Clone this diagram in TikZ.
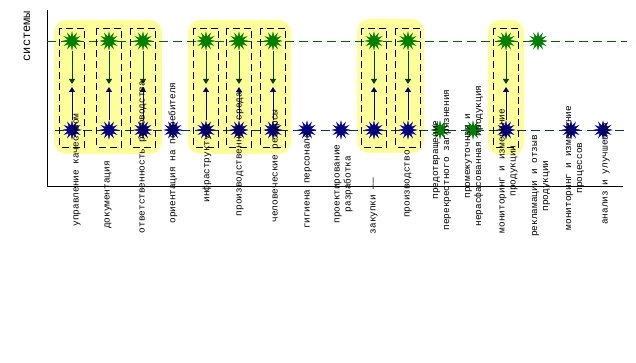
\documentclass[tikz,border=0pt]{standalone}
\usepackage{fontspec}
\setmainfont{Liberation Mono}
\usetikzlibrary{shapes.geometric,arrows.meta}
\definecolor{ybox}{HTML}{FFFF99}
\definecolor{gstar}{HTML}{008000}
\definecolor{garr}{HTML}{004000}
\definecolor{gline}{HTML}{006600}
\definecolor{bstar}{HTML}{000080}
\definecolor{bline}{HTML}{003366}
\tikzset{
  grp/.style={fill=ybox,draw=none,rounded corners=12pt},
  colbox/.style={draw=black,dash pattern=on 7pt off 4pt,line width=0.8pt},
  gstarn/.style={star,star points=12,star point ratio=2.1,minimum size=18pt,inner sep=0pt,fill=gstar,draw=gstar,line width=0.3pt},
  bstarn/.style={star,star points=12,star point ratio=2.1,minimum size=18pt,inner sep=0pt,fill=bstar,draw=blue!70!black,line width=0.3pt},
  garrow/.style={draw=garr,line width=0.9pt,-{Triangle[width=6pt,length=5pt]}},
  barrow/.style={draw=bstar,line width=0.9pt,-{Triangle[width=6pt,length=5pt]}},
  lbl/.style={rotate=90,align=center,inner sep=0pt,font=\fontsize{9.4}{11}\selectfont},
  gdash/.style={draw=gline,line width=0.9pt,dash pattern=on 9pt off 5pt},
  bdash/.style={draw=bline,line width=0.9pt,dash pattern=on 9pt off 5pt},
}
\begin{document}
\begin{tikzpicture}[x=1pt,y=-1pt]
\useasboundingbox[fill=white] (0,0) rectangle (636,363);
% yellow groups
\fill[grp] (54,20) rectangle (162,154);
\fill[grp] (188,20) rectangle (291,154);
\fill[grp] (357,19) rectangle (424,153);
\fill[grp] (488,20) rectangle (524,155);
% axes
\coordinate (ytop) at (47,10);
\coordinate (orig) at (47,186);
\coordinate (xend) at (623,186);
\draw[black,line width=0.8pt] (ytop) -- (orig) -- (xend);
% level lines
\coordinate (gl0) at (47,41);
\coordinate (gl1) at (627,41);
\coordinate (bl0) at (55,130);
\coordinate (bl1) at (627,130);
\draw[gdash] (gl0) -- (gl1);
\draw[bdash] (bl0) -- (bl1);
% dashed column boxes and arrows
\foreach \i/\x in {1/72,2/109,3/143,5/206,6/239,7/273,10/374,11/408,14/506}{
  \draw[colbox] (\x-12.5,28) rectangle (\x+12.5,147);
  \node[gstarn] (g\i) at (\x,41) {};
  \node[bstarn] (b\i) at (\x,130) {};
  \coordinate (ga\i) at (\x,84);
  \coordinate (ba\i) at (\x,87);
  \draw[garrow] (g\i) -- (ga\i);
  \draw[barrow] (b\i) -- (ba\i);
}
% single stars
\foreach \i/\x in {4/173,8/307,9/341,16/571,17/603}{
  \node[bstarn] (b\i) at (\x,130) {};
}
\node[gstarn] (g12) at (440,130) {};
\node[gstarn] (g13) at (473,130) {};
\node[gstarn] (g15) at (538,41) {};
% axis title
\node[rotate=90,inner sep=0pt,font=\fontsize{12}{14}\selectfont] (ttl) at (27,36) {системы};
% labels
\node[lbl] (l1) at (77,170) {управление качеством};
\node[lbl] (l2) at (108,195) {документация};
\node[lbl] (l3) at (143,157) {ответственность руководства};
\node[lbl] (l4) at (173,153) {ориентация на потребителя};
\node[lbl] (l5) at (207,163) {инфраструктура};
\node[lbl] (l6) at (240,154) {производственная среда};
\node[lbl] (l7) at (276,166) {человеческие ресурсы};
\node[lbl] (l8) at (308,181) {гигиена персонала};
\node[lbl] (l9) at (343.5,184) {проектирование\\разработка};
\node[lbl] (l10) at (374,206) {закупки ——};
\node[lbl] (l11) at (408,184) {производство};
\node[lbl] (l12) at (442,160) {предотвращение\\перекрестного загрязнения};
\node[lbl] (l13) at (474,156) {промежуточная и\\нерасфасованная продукция};
\node[lbl] (l14) at (508.5,171) {мониторинг и измерение\\продукции};
\node[lbl] (l15) at (541,186) {рекламации и отзыв\\продукции};
\node[lbl] (l16) at (575,168) {мониторинг и измерение\\процессов};
\node[lbl] (l17) at (606,174) {анализ и улучшения};
\end{tikzpicture}
\end{document}
